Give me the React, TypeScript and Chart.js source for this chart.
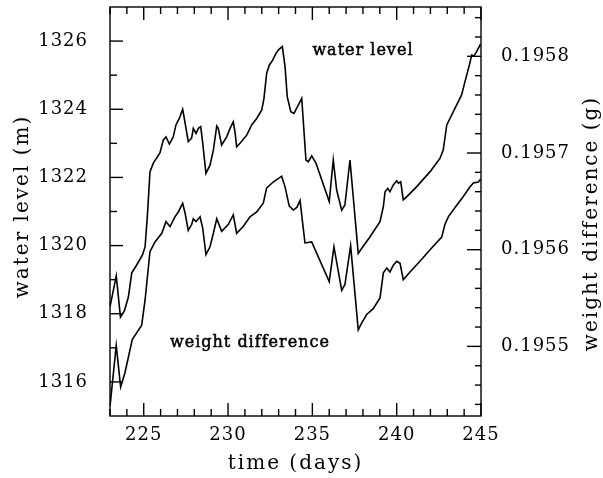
import React, { useEffect, useRef } from "react";
import { Chart, registerables } from "chart.js";

Chart.register(...registerables);

// ---- data ----
const waterDays = [
  223.0, 223.37, 223.62, 223.85, 224.09, 224.29, 224.58, 224.92, 225.08, 225.22,
  225.37, 225.57, 225.96, 226.16, 226.32, 226.52, 226.75, 226.91, 227.11, 227.31,
  227.39, 227.64, 227.84, 227.94, 228.1, 228.24, 228.38, 228.5, 228.69, 228.93,
  229.13, 229.33, 229.42, 229.62, 229.92, 230.12, 230.31, 230.41, 230.51, 230.71,
  231.11, 231.4, 231.7, 232.0, 232.13, 232.29, 232.45, 232.65, 232.84, 233.02,
  233.22, 233.38, 233.51, 233.72, 233.91, 234.11, 234.37, 234.62, 234.76, 234.96,
  235.22, 236.0, 236.24, 236.44, 236.74, 236.93, 237.23, 237.72, 237.93, 238.42,
  239.01, 239.21, 239.31, 239.47, 239.6, 239.8, 240.0, 240.1, 240.24, 240.39,
  240.59, 241.19, 241.98, 242.57, 242.76, 242.97, 243.36, 243.85, 244.05, 244.31,
  244.45, 244.58, 244.74, 244.97,
];
const waterLevel = [
  1318.2, 1319.11, 1317.9, 1318.08, 1318.49, 1319.2, 1319.43, 1319.72, 1319.96, 1320.9,
  1322.16, 1322.42, 1322.72, 1323.1, 1323.19, 1322.98, 1323.19, 1323.54, 1323.73, 1324.0,
  1323.78, 1323.05, 1323.15, 1323.44, 1323.29, 1323.44, 1323.49, 1323.0, 1322.12, 1322.36,
  1322.8, 1323.51, 1323.44, 1322.95, 1323.19, 1323.44, 1323.63, 1323.34, 1322.9, 1323.0,
  1323.24, 1323.54, 1323.73, 1323.98, 1324.32, 1325.05, 1325.3, 1325.44, 1325.64, 1325.76,
  1325.84, 1325.25, 1324.37, 1323.93, 1323.88, 1324.07, 1324.32, 1322.51, 1322.46, 1322.63,
  1322.41, 1321.29, 1322.51, 1321.63, 1321.04, 1321.19, 1322.51, 1319.77, 1319.92, 1320.26,
  1320.7, 1321.14, 1321.58, 1321.68, 1321.58, 1321.78, 1321.9, 1321.83, 1321.87, 1321.34,
  1321.43, 1321.73, 1322.17, 1322.56, 1322.8, 1323.54, 1323.93, 1324.42, 1324.81, 1325.3,
  1325.59, 1325.56, 1325.69, 1325.91,
];
const weightDays = [
  223.0, 223.37, 223.63, 223.89, 224.32, 224.58, 224.88, 225.08, 225.37, 225.67,
  226.07, 226.32, 226.56, 226.85, 227.05, 227.31, 227.45, 227.64, 227.84, 227.94,
  228.1, 228.34, 228.5, 228.69, 228.93, 229.13, 229.33, 229.62, 230.01, 230.31,
  230.51, 230.9, 231.3, 231.7, 232.09, 232.29, 232.68, 233.18, 233.38, 233.63,
  233.87, 234.09, 234.27, 234.56, 234.96, 236.0, 236.28, 236.74, 236.93, 237.27,
  237.72, 237.92, 238.22, 238.61, 239.01, 239.21, 239.41, 239.6, 239.8, 240.0,
  240.2, 240.39, 240.79, 241.38, 241.98, 242.67, 242.86, 243.06, 243.56, 243.95,
  244.35, 244.55, 244.84, 244.98,
];
const weightDiff = [
  0.195438, 0.195501, 0.195458, 0.195473, 0.195507, 0.195514, 0.195522, 0.195548, 0.195598, 0.195608,
  0.195617, 0.195629, 0.195624, 0.195634, 0.195639, 0.195648, 0.195638, 0.19562, 0.195626, 0.195632,
  0.195629, 0.195634, 0.195622, 0.195595, 0.195603, 0.195617, 0.195632, 0.195619, 0.195626, 0.195636,
  0.195617, 0.195624, 0.195634, 0.195639, 0.195648, 0.195664, 0.19567, 0.195676, 0.195665, 0.195645,
  0.195641, 0.195644, 0.195651, 0.195607, 0.195608, 0.195567, 0.195603, 0.195558, 0.195564, 0.195604,
  0.195517, 0.195524, 0.195533, 0.195539, 0.19555, 0.195576, 0.195581, 0.195577, 0.195584, 0.195588,
  0.195586, 0.195569, 0.195577, 0.195588, 0.1956, 0.195613, 0.195626, 0.195634, 0.195646, 0.195655,
  0.195665, 0.195669, 0.19567, 0.195673,
];

const xTickLabels = [225, 230, 235, 240, 245];
const leftTickLabels = [1316, 1318, 1320, 1322, 1324, 1326];
const rightTickLabels = [0.1955, 0.1956, 0.1957, 0.1958];

const X_MIN = 223;
const X_MAX = 245;
const LEFT_MIN = 1315;
const LEFT_MAX = 1327;
const RIGHT_MIN = 0.195428;
const RIGHT_MAX = 0.195851;

const FONT = "'DejaVu Serif', serif";

const framePlugin = {
  id: "frameAndText",
  beforeDraw(chart: any) {
    (chart.ctx as any).letterSpacing = "1px";
  },
  afterDraw(chart: any) {
    const { ctx, chartArea: a, scales } = chart;
    ctx.save();
    ctx.strokeStyle = "#000";
    ctx.lineWidth = 1.4;
    ctx.lineCap = "butt";
    const seg = (x1: number, y1: number, x2: number, y2: number) => {
      ctx.beginPath();
      ctx.moveTo(x1, y1);
      ctx.lineTo(x2, y2);
      ctx.stroke();
    };
    ctx.strokeRect(a.left, a.top, a.right - a.left, a.bottom - a.top);
    // x ticks (bottom & top), inward
    for (let d = X_MIN; d <= X_MAX; d++) {
      const px = scales.x.getPixelForValue(d);
      const len = d % 5 === 0 ? 13 : 7;
      seg(px, a.bottom, px, a.bottom - len);
      seg(px, a.top, px, a.top + len);
    }
    // left ticks
    for (let m = LEFT_MIN + 1; m < LEFT_MAX; m++) {
      const py = scales.y.getPixelForValue(m);
      const len = m % 2 === 0 ? 13 : 7;
      seg(a.left, py, a.left + len, py);
    }
    // right ticks (every 0.00002)
    for (let k = 9772; k <= 9792; k++) {
      const v = k * 2e-5;
      const py = scales.y1.getPixelForValue(v);
      const len = k % 5 === 0 ? 14 : 6;
      seg(a.right, py, a.right - len, py);
    }

    ctx.fillStyle = "#000";
    // axis titles
    (ctx as any).letterSpacing = "2px";
    ctx.font = `20px ${FONT}`;
    ctx.textAlign = "center";
    ctx.textBaseline = "middle";
    const cy = (a.top + a.bottom) / 2;
    // bottom
    ctx.fillText("time (days)", (a.left + a.right) / 2, 464);
    // left (reads bottom to top)
    ctx.save();
    ctx.translate(23, cy - 5);
    ctx.rotate(-Math.PI / 2);
    ctx.fillText("water level (m)", 0, 0);
    ctx.restore();
    // right (reads bottom to top)
    ctx.save();
    ctx.translate(592, cy + 12);
    ctx.rotate(-Math.PI / 2);
    ctx.fillText("weight difference (g)", 0, 0);
    ctx.restore();

    // in-plot annotations
    (ctx as any).letterSpacing = "1px";
    ctx.font = `16px ${FONT}`;
    ctx.lineWidth = 0.5;
    const ann = (t: string, xv: number, yv: number) => {
      const px = scales.x.getPixelForValue(xv);
      const py = scales.y.getPixelForValue(yv);
      ctx.fillText(t, px, py);
      ctx.strokeText(t, px, py);
    };
    ann("water level", 238.0, 1325.71);
    ann("weight difference", 231.3, 1317.14);
    ctx.restore();
  },
};

export default function App() {
  const ref = useRef<HTMLCanvasElement | null>(null);

  useEffect(() => {
    if (!ref.current) return;
    const tickFont = { family: FONT, size: 18 };
    const chart = new Chart(ref.current, {
      type: "line",
      data: {
        datasets: [
          {
            label: "water level",
            data: waterDays.map((d, i) => ({ x: d, y: waterLevel[i] })),
            yAxisID: "y",
            borderColor: "#000",
            borderWidth: 1.6,
            pointRadius: 0,
            tension: 0,
          },
          {
            label: "weight difference",
            data: weightDays.map((d, i) => ({ x: d, y: weightDiff[i] })),
            yAxisID: "y1",
            borderColor: "#000",
            borderWidth: 1.6,
            pointRadius: 0,
            tension: 0,
          },
        ],
      },
      options: {
        responsive: false,
        devicePixelRatio: 1,
        animation: false,
        layout: { padding: { top: 7, left: 0, right: 0, bottom: 0 } },
        plugins: { legend: { display: false }, tooltip: { enabled: false } },
        scales: {
          x: {
            type: "linear",
            min: X_MIN,
            max: X_MAX,
            grid: { display: false },
            border: { display: false },
            afterBuildTicks: (s: any) => {
              s.ticks = xTickLabels.map((v) => ({ value: v }));
            },
            afterFit: (s: any) => {
              s.height = 62;
              s.paddingLeft = 0;
              s.paddingRight = 0;
            },
            ticks: {
              autoSkip: false,
              maxRotation: 0,
              padding: 1,
              color: "#000",
              font: tickFont,
              callback: (v: any) => String(v),
            },
          },
          y: {
            type: "linear",
            position: "left",
            min: LEFT_MIN,
            max: LEFT_MAX,
            grid: { display: false },
            border: { display: false },
            afterBuildTicks: (s: any) => {
              s.ticks = leftTickLabels.map((v) => ({ value: v }));
            },
            afterFit: (s: any) => {
              s.width = 110;
              s.paddingTop = 0;
              s.paddingBottom = 0;
            },
            ticks: {
              padding: 14,
              color: "#000",
              font: tickFont,
              callback: (v: any) => String(v),
            },
          },
          y1: {
            type: "linear",
            position: "right",
            min: RIGHT_MIN,
            max: RIGHT_MAX,
            grid: { display: false },
            border: { display: false },
            afterBuildTicks: (s: any) => {
              s.ticks = rightTickLabels.map((v) => ({ value: v }));
            },
            afterFit: (s: any) => {
              s.width = 122;
              s.paddingTop = 0;
              s.paddingBottom = 0;
            },
            ticks: {
              padding: 12,
              color: "#000",
              font: tickFont,
              callback: (v: any) => Number(v).toFixed(4),
            },
          },
        },
      },
      plugins: [framePlugin],
    } as any);
    return () => chart.destroy();
  }, []);

  return (
    <div style={{ position: "fixed", left: 0, top: 0, width: 603, height: 478, background: "#fff" }}>
      <canvas ref={ref} width={603} height={478} style={{ width: 603, height: 478, display: "block" }} />
    </div>
  );
}
